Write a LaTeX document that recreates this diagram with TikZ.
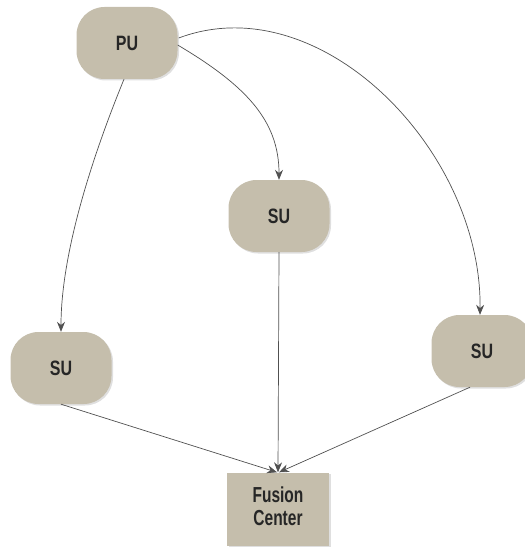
\documentclass[tikz,border=0pt]{standalone}
\usepackage{fontspec}
\usepackage{graphicx}
\setmainfont{Liberation Sans}
\usetikzlibrary{arrows.meta,shadows}
\definecolor{nodefill}{RGB}{197,190,172}
\definecolor{edgecol}{RGB}{80,80,80}
% tall, narrow labels
\newcommand\tallLabel[2]{\scalebox{1}[#1]{#2}}
\tikzset{
  unit/.style={draw=none, fill=nodefill, rounded corners=28pt,
    minimum width=101pt, minimum height=72pt,
    font=\fontsize{16}{18}\selectfont\bfseries, text=black!85,
    drop shadow={shadow xshift=1.5pt, shadow yshift=-1.5pt, opacity=0.25}},
  center/.style={draw=none, fill=nodefill,
    minimum width=102pt, minimum height=73pt, align=center,
    font=\fontsize{15.5}{18}\selectfont\bfseries, text=black!85,
    drop shadow={shadow xshift=1.5pt, shadow yshift=-1.5pt, opacity=0.25}},
  link/.style={draw=edgecol, line width=0.7pt,
    -{Stealth[length=10pt,width=8pt]}}
}
\begin{document}
\begin{tikzpicture}[x=1pt,y=-1pt]
  \useasboundingbox (0,0) rectangle (524,548);
  % nodes
  \node[unit] (pu) at (127,43) {\tallLabel{1.3}{PU}};
  \node[unit] (sum) at (279,216) {\tallLabel{1.3}{SU}};
  \node[unit] (sul) at (61,368) {\tallLabel{1.3}{SU}};
  \node[unit] (sur) at (482,351) {\tallLabel{1.3}{SU}};
  \node[center] (fc) at (278,509)
    {\tallLabel{1.4}{\begin{tabular}{@{}c@{}}Fusion\\[-2pt]Center\end{tabular}}};
  % primary user to secondary users
  \draw[link] (pu.south) ++(-3,0) coordinate (a1)
    .. controls (95,150) and (61,250) .. (sul.north);
  \draw[link] (pu.east) ++(0,2) coordinate (a2)
    .. controls (245,85) and (279,120) .. (sum.north);
  \draw[link] (pu.east) ++(1,-5) coordinate (a3)
    .. controls (320,-15) and (482,150) .. ([xshift=-2pt]sur.north);
  % secondary users to fusion center
  \draw[link] (sum.south) -- (fc.north);
  \draw[link] (sul.south) -- ([xshift=-1pt]fc.north);
  \draw[link] ([xshift=-12pt]sur.south) -- ([xshift=1pt]fc.north);
\end{tikzpicture}
\end{document}
